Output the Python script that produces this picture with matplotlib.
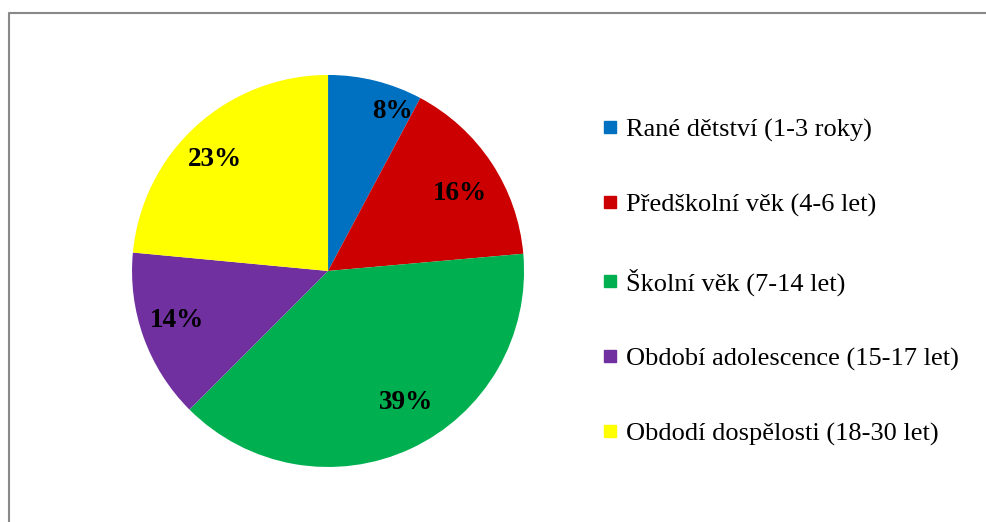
import numpy as np
import matplotlib
matplotlib.use("Agg")
import matplotlib.pyplot as plt
from matplotlib.lines import Line2D

categories = [
    "Rané dětství (1-3 roky)",
    "Předškolní věk (4-6 let)",
    "Školní věk (7-14 let)",
    "Období adolescence (15-17 let)",
    "Obdodí dospělosti (18-30 let)",
]
values = [7.8, 15.8, 38.9, 14.0, 23.5]
pct_labels = ["8%", "16%", "39%", "14%", "23%"]
colors = ["#0070C0", "#CC0000", "#00B050", "#7030A0", "#FFFF00"]

# where the percentage labels sit (angle in degrees, fraction of radius)
label_angles = [68, 30.5, -59.5, -162, 135.5]
label_radii = [0.88, 0.78, 0.78, 0.81, 0.81]

plt.rcParams["font.family"] = ["Liberation Serif", "DejaVu Serif"]

fig = plt.figure(figsize=(9.86, 5.22), dpi=100)
ax = fig.add_axes([0.1339, 0.1054, 0.3976, 0.751])

wedges, texts = ax.pie(
    values,
    colors=colors,
    startangle=90,
    counterclock=False,
    wedgeprops={"linewidth": 0},
)
for lab, a, r in zip(pct_labels, label_angles, label_radii):
    t = np.deg2rad(a)
    ax.text(r * np.cos(t), r * np.sin(t), lab, ha="center", va="center",
            fontsize=19.5, fontweight="bold", color="black")
ax.set_xlim(-1, 1)
ax.set_ylim(-1, 1)
ax.set_aspect("equal")

# outer frame (only left and top are visible)
fx = 8.5 / 986
fy = 1 - 13 / 522
fig.add_artist(Line2D([fx, fx, 1], [0, fy, fy], transform=fig.transFigure,
                      color="#888888", linewidth=1.5))

handles = [Line2D([], [], marker="s", linestyle="none", markersize=9,
                  markerfacecolor=c, markeredgecolor=c) for c in colors]
fig.legend(handles, categories, loc="upper left",
           bbox_to_anchor=(602 / 986, 1 - 118 / 522),
           frameon=False, fontsize=19, handlelength=0.6, handletextpad=0.3,
           labelspacing=1.94, borderaxespad=0, borderpad=0)

fig.savefig("out.png", dpi=100)
